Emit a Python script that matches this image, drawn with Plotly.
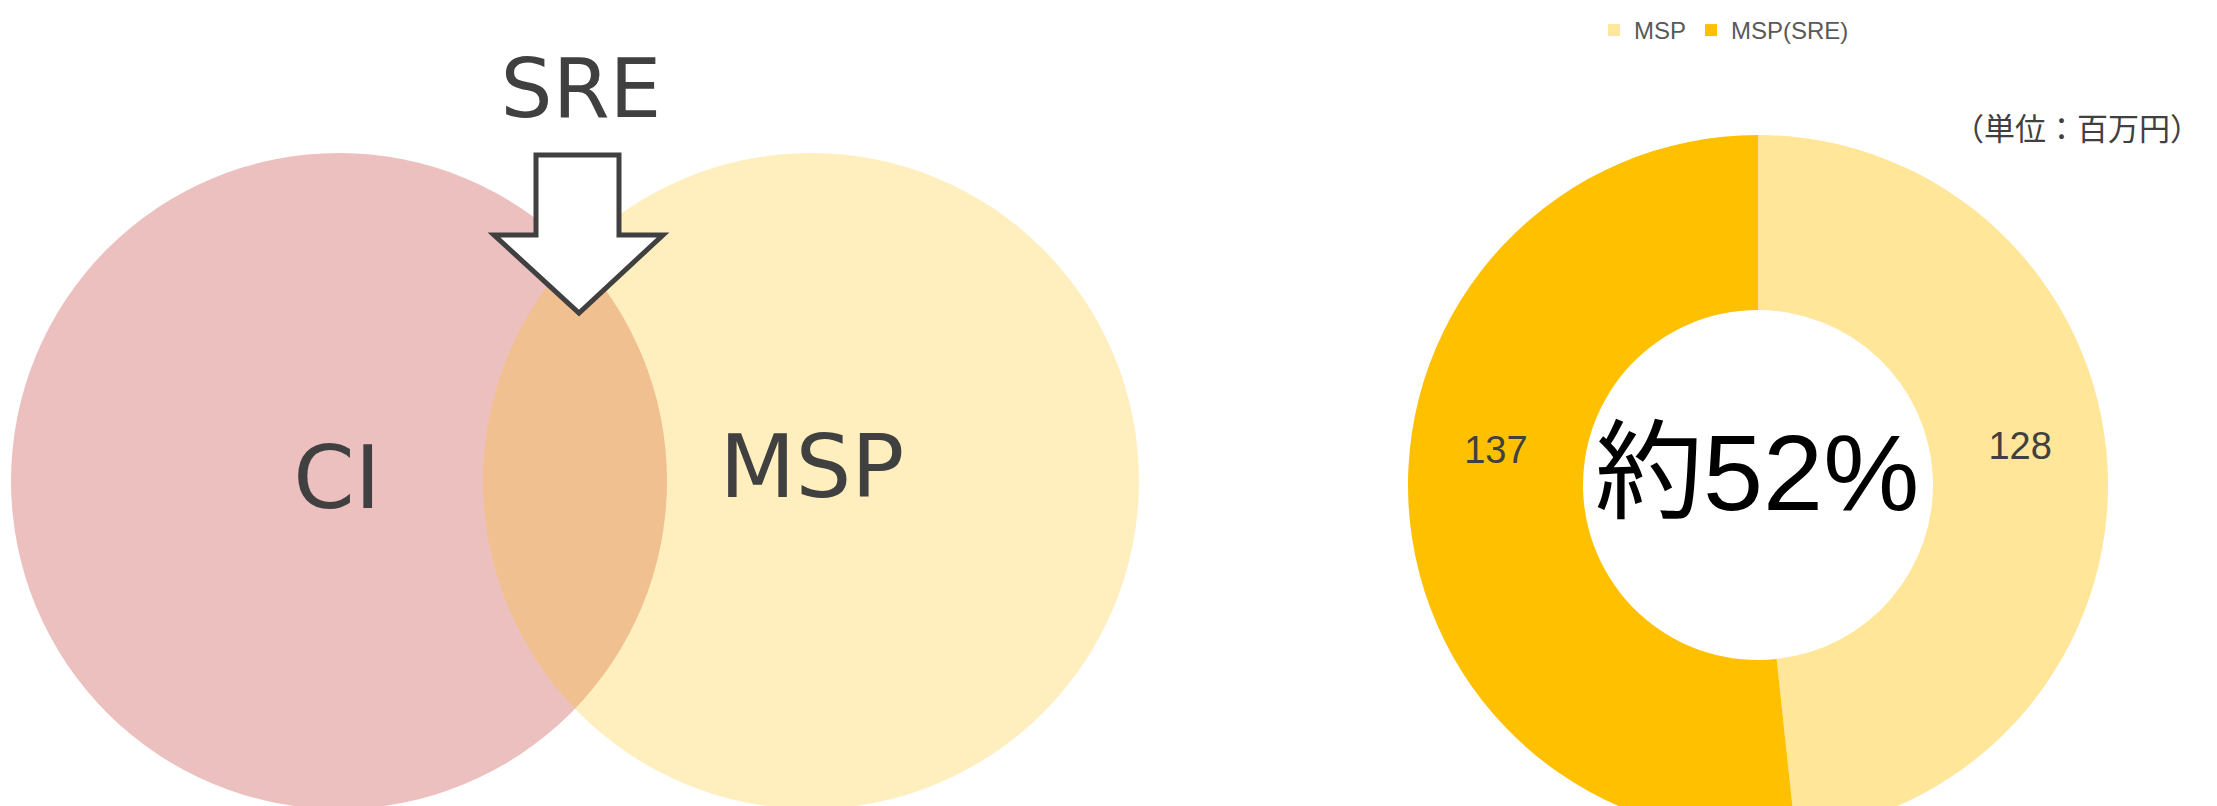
import plotly.graph_objects as go

W, H = 2217, 845
OFF = 8  # the page body adds an 8px margin; axis ranges are shifted so data units = page pixels

# Venn diagram labels
set_labels = ["CI", "MSP"]
overlap_label = "SRE"

# donut data (単位：百万円)
donut_labels = ["MSP", "MSP(SRE)"]
donut_values = [128, 137]
donut_colors = ["#FFE699", "#FFC000"]
unit_text = "（単位：百万円）"

share = round(donut_values[1] / sum(donut_values) * 100)

fig = go.Figure()

# donut on the right
cx, cy, r = 1758 - OFF, 485 - OFF, 350
fig.add_trace(go.Pie(
    labels=donut_labels,
    values=donut_values,
    sort=False,
    direction="clockwise",
    rotation=0,
    hole=0.5,
    marker=dict(colors=donut_colors, line=dict(width=0)),
    texttemplate=["%{value}<br> ", "%{value}<br> <br> "],
    textposition="inside",
    insidetextorientation="horizontal",
    textfont=dict(family="Liberation Sans, Arial", size=38, color="#404040"),
    domain=dict(x=[(cx - r) / W, (cx + r) / W], y=[(H - cy - r) / H, (H - cy + r) / H]),
    hoverinfo="label+value",
))

# venn labels
fig.add_trace(go.Scatter(
    x=[337, 812, 581],
    y=[486, 475, 96],
    text=set_labels + [overlap_label],
    mode="text",
    textposition="middle center",
    textfont=dict(family="DejaVu Sans", size=[88, 88, 82], color="#404040"),
    showlegend=False,
    hoverinfo="skip",
))

# circles: pink below, transparent yellow on top gives the orange overlap
fig.add_shape(type="circle", xref="x", yref="y", x0=11, x1=667, y0=153, y1=809,
              fillcolor="#EDC0C0", line_width=0, layer="below")
fig.add_shape(type="circle", xref="x", yref="y", x0=483, x1=1139, y0=153, y1=809,
              fillcolor="rgba(255,192,0,0.25)", line_width=0, layer="below")

# block arrow pointing at the overlap
fig.add_shape(type="path", xref="x", yref="y",
              path="M536,155 L619,155 L619,235 L663,235 L579,313 L494,235 L536,235 Z",
              fillcolor="white", line=dict(color="#404040", width=5), layer="above")

fig.add_annotation(x=1757, y=472, xref="x", yref="y", text=f"約{share}%", showarrow=False,
                   font=dict(family="Liberation Sans, Noto Sans CJK JP", size=108, color="black"))
fig.add_annotation(x=2203, y=126, xref="x", yref="y", text=unit_text, showarrow=False,
                   xanchor="right",
                   font=dict(family="Noto Sans CJK JP", size=31, color="#404040"))

fig.update_layout(
    width=W, height=H,
    margin=dict(l=0, r=0, t=0, b=0),
    paper_bgcolor="white",
    plot_bgcolor="white",
    xaxis=dict(range=[OFF, W + OFF], visible=False, fixedrange=True),
    yaxis=dict(range=[H + OFF, OFF], visible=False, fixedrange=True),
    legend=dict(orientation="h", x=(1594 - OFF) / W, y=1, xanchor="left", yanchor="top",
                font=dict(family="Liberation Sans, Arial", size=24, color="#595959"),
                bgcolor="rgba(0,0,0,0)"),
    showlegend=True,
)

fig.write_html("out.html")
